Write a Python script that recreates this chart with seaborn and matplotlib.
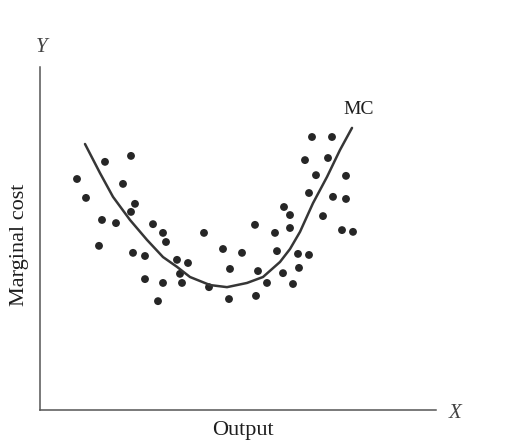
import seaborn as sns
import matplotlib.pyplot as plt
import pandas as pd

# scatter of observed marginal cost vs output
output = [9.25, 11.5, 16.25, 22.75, 20.75, 23.75, 22.75, 15.5, 19.0, 14.75,
          23.25, 26.25, 28.25, 30.75, 31.5, 26.25, 30.75, 29.5, 34.25, 37.0,
          35.0, 35.5, 41.0, 42.25, 45.75, 47.5, 47.25, 50.5, 53.75, 54.5,
          54.0, 56.75, 58.75, 59.25, 60.75, 61.0, 62.5, 62.5, 63.25, 64.5,
          64.75, 67.25, 66.25, 68.0, 69.0, 67.25, 70.75, 73.0, 72.0, 73.25,
          76.5, 76.5, 75.5, 78.25]
mcost = [66.0, 60.6, 70.9, 72.6, 64.6, 58.9, 56.6, 54.3, 53.4, 46.9,
         44.9, 44.0, 53.1, 50.6, 48.0, 37.4, 36.3, 31.1, 42.9, 42.0,
         38.9, 36.3, 50.6, 35.1, 46.0, 40.3, 31.7, 44.9, 52.9, 39.7,
         32.6, 36.3, 50.6, 45.4, 39.1, 58.0, 55.7, 52.0, 36.0, 44.6,
         40.6, 44.3, 71.4, 78.0, 67.1, 62.0, 55.4, 78.0, 72.0, 60.9,
         66.9, 60.3, 51.4, 50.9]

# MC curve
curve_x = [11.25, 15.0, 18.25, 22.5, 26.75, 30.75, 34.25, 37.5, 42.5, 46.75,
           51.75, 55.75, 60.0, 62.5, 65.0, 68.25, 71.75, 75.0, 78.0]
curve_y = [76.0, 67.7, 60.9, 54.3, 48.6, 43.7, 40.9, 38.0, 35.7, 35.1,
           36.3, 38.0, 42.3, 46.0, 50.9, 59.1, 66.6, 74.3, 80.6]

pts = pd.DataFrame({"output": output, "mc": mcost})
curve = pd.DataFrame({"output": curve_x, "mc": curve_y})

sns.set_style("white")
plt.rcParams['font.family'] = ['Liberation Serif', 'DejaVu Serif']

W, H = 517, 444
fig = plt.figure(figsize=(W / 100, H / 100), dpi=100)
ax = fig.add_axes([40 / W, (H - 410) / H, 396 / W, 343 / H])

sns.scatterplot(data=pts, x="output", y="mc", ax=ax, s=32, color="#262626",
                edgecolor="none")
sns.lineplot(data=curve, x="output", y="mc", ax=ax, color="#363636",
             linewidth=1.8, sort=False)

ax.set_xlim(0, 99)
ax.set_ylim(0, 98)
ax.set_xticks([])
ax.set_yticks([])
ax.set_xlabel("")
ax.set_ylabel("")
sns.despine(ax=ax)
for s in ["left", "bottom"]:
    ax.spines[s].set_color("#555555")
    ax.spines[s].set_linewidth(1.1)

def px(x, y):
    return x / W, 1 - y / H

fig.text(*px(243, 430), "Output", fontsize=16, ha="center", va="center", color="#1e1e1e")
fig.text(*px(20, 245), "Marginal cost", fontsize=16, rotation=90, ha="center",
         va="center", color="#1e1e1e")
fig.text(*px(359, 109), "MC", fontsize=14, ha="center", va="center", color="#1e1e1e")
fig.text(*px(42, 47), "Y", fontsize=15, style="italic", ha="center", va="center", color="#444")
fig.text(*px(455, 413), "X", fontsize=15, style="italic", ha="center", va="center", color="#444")

fig.savefig("out.png", dpi=100)
